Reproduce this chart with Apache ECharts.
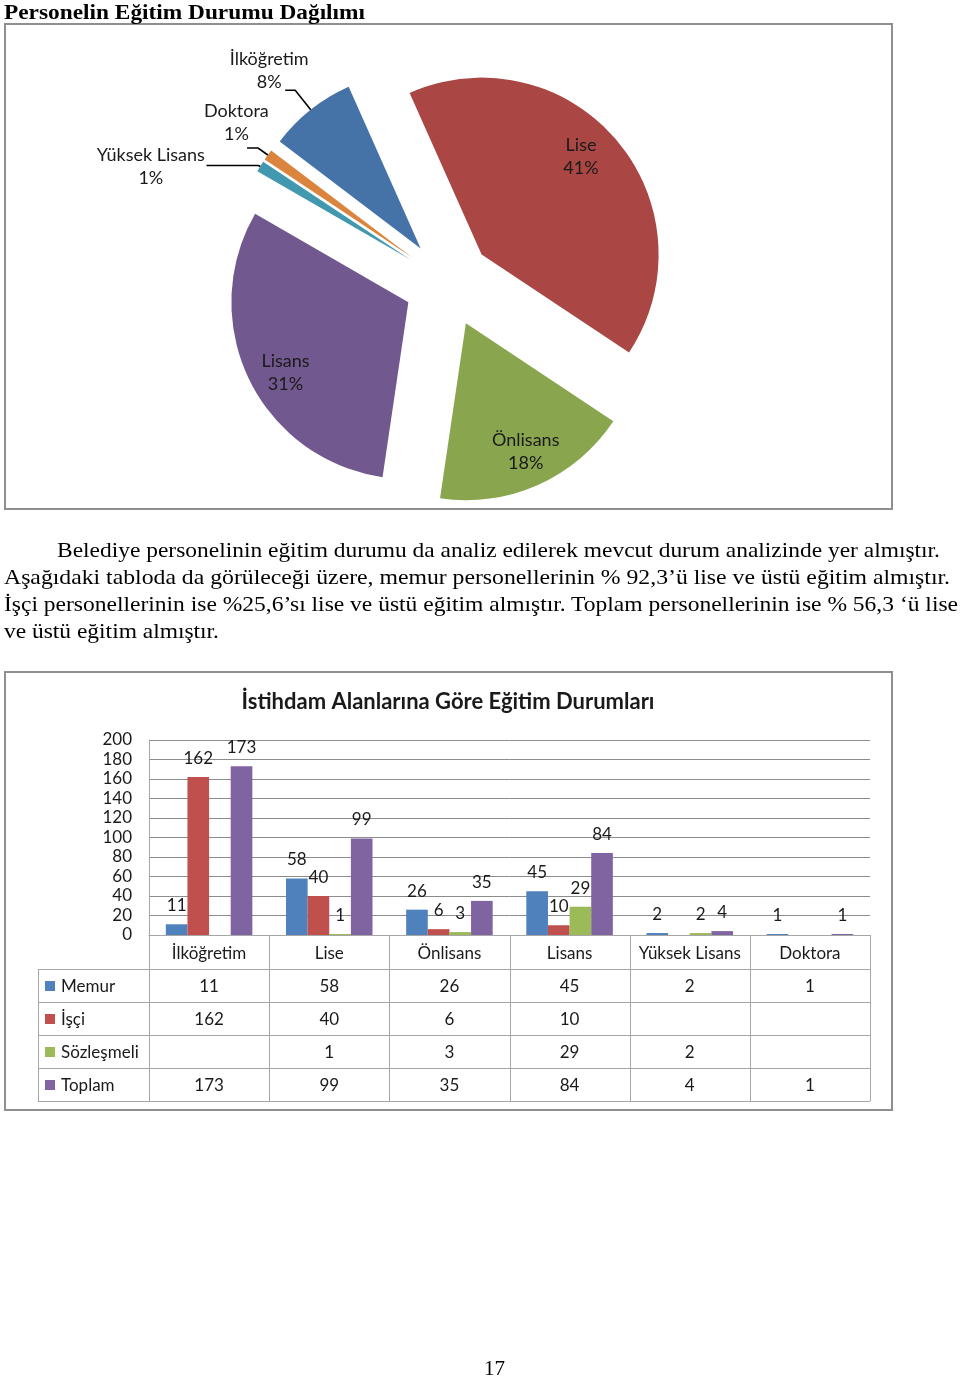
<!DOCTYPE html>
<html>
<head>
<meta charset="utf-8">
<script src="https://cdn.jsdelivr.net/npm/echarts@6/dist/echarts.min.js"></script>
<style>
html,body{margin:0;padding:0;background:#fff;}
#page{position:relative;width:960px;height:1376px;overflow:hidden;background:#fff;}
#chart{position:absolute;left:0;top:0;width:960px;height:1376px;}
.t{position:absolute;white-space:nowrap;font-family:"Liberation Serif","Times New Roman",serif;color:#000;transform-origin:0 0;line-height:1;}
</style>
</head>
<body>
<div id="page">
  <div id="chart"></div>
</div>
<script>
// ---------- DATA ----------
const pieCategories = ['Lise', 'Önlisans', 'Lisans', 'Yüksek Lisans', 'Doktora', 'İlköğretim'];
const piePercents = [41, 18, 31, 1, 1, 8];

const barCategories = ['İlköğretim', 'Lise', 'Önlisans', 'Lisans', 'Yüksek Lisans', 'Doktora'];
const seriesNames = ['Memur', 'İşçi', 'Sözleşmeli', 'Toplam'];
const memur = [11, 58, 26, 45, 2, 1];
const isci = [162, 40, 6, 10, null, null];
const sozlesmeli = [null, 1, 3, 29, 2, null];
const toplam = [173, 99, 35, 84, 4, 1];
const yMin = 0, yMax = 200, yInterval = 20;

const pageTitle = 'Personelin Eğitim Durumu Dağılımı';
const chartTitle = 'İstihdam Alanlarına Göre Eğitim Durumları';
const paragraphLines = [
  'Belediye personelinin eğitim durumu da analiz edilerek mevcut durum analizinde yer almıştır.',
  'Aşağıdaki  tabloda da görüleceği üzere, memur personellerinin % 92,3’ü  lise ve üstü eğitim almıştır.',
  'İşçi personellerinin ise %25,6’sı lise ve üstü eğitim almıştır. Toplam personellerinin ise % 56,3 ‘ü lise',
  've üstü eğitim almıştır.'
];
const pageNumber = '17';

// ---------- STYLE / LAYOUT ----------
const pieColors = ['#AA4643', '#89A54E', '#71588F', '#4198AF', '#DB843D', '#4572A7'];
const barColors = ['#4F81BD', '#C0504D', '#9BBB59', '#8064A2'];
const CHART_FONT = 'Lato, "Open Sans", sans-serif';
const TXT = '#1a1a1a';

// html text placement: [text, left, top, targetWidth, fontSize, bold]
const htmlText = [
  [pageTitle, 4, 1, 361, 22, true],
  [paragraphLines[0], 57, 540, 883, 21, false],
  [paragraphLines[1], 4, 567, 946, 21, false],
  [paragraphLines[2], 4, 594, 954, 21, false],
  [paragraphLines[3], 4, 621, 215, 21, false],
  [pageNumber, 484, 1358, 21, 21, false]
];
const page = document.getElementById('page');
htmlText.forEach(function (d) {
  const el = document.createElement('div');
  el.className = 't';
  el.textContent = d[0];
  el.style.left = d[1] + 'px';
  el.style.top = d[2] + 'px';
  el.style.fontSize = d[4] + 'px';
  if (d[5]) el.style.fontWeight = 'bold';
  page.appendChild(el);
  const w = el.getBoundingClientRect().width;
  if (w > 0) el.style.transform = 'scaleX(' + (d[3] / w) + ')';
});

// pie geometry
const PIE_C = [448, 283], PIE_R = 177, PIE_OFF = 44, PIE_START = 114;
const labelRadiusFactor = [0.79, 0.80, 0.80, 1.56, 1.25, 1.32];
const labelAngleShift = [4.5, 1, 4, 12, -2, 2];
const lineLen1 = [0, 0, 0, 2, 12, 25];
const lineLen2 = [0, 0, 0, 52, 11, 10];
const pieTotal = piePercents.reduce(function (a, b) { return a + b; }, 0);

function pieGeom(i) {
  let cum = 0;
  for (let j = 0; j < i; j++) cum += piePercents[j];
  const a0 = PIE_START - 360 * cum / pieTotal;
  const mid = a0 - 180 * piePercents[i] / pieTotal;
  const rad = mid * Math.PI / 180;
  const dx = Math.cos(rad), dy = -Math.sin(rad);
  return { mid: mid, dx: dx, dy: dy, ax: PIE_C[0] + PIE_OFF * dx, ay: PIE_C[1] + PIE_OFF * dy };
}

const pieData = pieCategories.map(function (n, i) {
  return { name: n, value: piePercents[i], selected: true, itemStyle: { color: pieColors[i] } };
});

// bar chart grid
const GRID_L = 149, GRID_R = 870, GRID_T = 740, GRID_B = 935;
const colW = (GRID_R - GRID_L) / barCategories.length;
const tableRowTops = [969, 1002, 1035, 1068];
const tableBottom = 1101;
const tableLeft = 38;
const LINE = '#a6a6a6';
const allSeries = [memur, isci, sozlesmeli, toplam];

const graphics = [];
// frames
graphics.push({ type: 'rect', shape: { x: 5, y: 24, width: 887, height: 485 }, style: { fill: null, stroke: '#8f8f8f', lineWidth: 2 } });
graphics.push({ type: 'rect', shape: { x: 5, y: 672, width: 887, height: 438 }, style: { fill: null, stroke: '#8f8f8f', lineWidth: 2 } });

// pie labels and leader lines (positions derived from slice angles)
pieCategories.forEach(function (n, i) {
  const g = pieGeom(i);
  const la = (g.mid + labelAngleShift[i]) * Math.PI / 180;
  const lr = labelRadiusFactor[i] * PIE_R;
  graphics.push({
    type: 'text', z: 20, x: g.ax + lr * Math.cos(la), y: g.ay - lr * Math.sin(la),
    style: {
      text: n + '\n' + Math.round(piePercents[i] / pieTotal * 100) + '%',
      font: '18px ' + CHART_FONT, lineHeight: 23, fill: TXT, textAlign: 'center', textVerticalAlign: 'middle'
    }
  });
  if (lineLen1[i] + lineLen2[i] > 0) {
    const p0 = [g.ax + PIE_R * g.dx, g.ay + PIE_R * g.dy];
    const p1 = [p0[0] + lineLen1[i] * g.dx, p0[1] + lineLen1[i] * g.dy];
    const p2 = [p1[0] - lineLen2[i], p1[1]];
    graphics.push({ type: 'polyline', z: 20, shape: { points: [p0, p1, p2] }, style: { stroke: '#000', lineWidth: 1.6, fill: null } });
  }
});

// chart title
graphics.push({ type: 'text', x: 448, y: 702, style: { text: chartTitle, font: 'bold 22px ' + CHART_FONT, fill: TXT, textAlign: 'center', textVerticalAlign: 'middle' } });
// table lines
tableRowTops.concat([tableBottom]).forEach(function (y) {
  graphics.push({ type: 'line', shape: { x1: tableLeft, y1: y + 0.5, x2: GRID_R, y2: y + 0.5 }, style: { stroke: LINE, lineWidth: 1 } });
});
graphics.push({ type: 'line', shape: { x1: tableLeft + 0.5, y1: tableRowTops[0], x2: tableLeft + 0.5, y2: tableBottom }, style: { stroke: LINE, lineWidth: 1 } });
for (let c = 0; c <= barCategories.length; c++) {
  const x = Math.round(GRID_L + c * colW) + 0.5;
  graphics.push({ type: 'line', shape: { x1: x, y1: GRID_B, x2: x, y2: tableBottom }, style: { stroke: LINE, lineWidth: 1 } });
}
// table rows
seriesNames.forEach(function (name, r) {
  const next = r < tableRowTops.length - 1 ? tableRowTops[r + 1] : tableBottom;
  const cy = (tableRowTops[r] + next) / 2 + 1.5;
  graphics.push({ type: 'rect', shape: { x: 45, y: Math.round(cy - 6), width: 10, height: 10 }, style: { fill: barColors[r] } });
  graphics.push({ type: 'text', x: 61, y: cy, style: { text: name, font: '17px ' + CHART_FONT, fill: TXT, textAlign: 'left', textVerticalAlign: 'middle' } });
  allSeries[r].forEach(function (v, c) {
    if (v == null) return;
    graphics.push({ type: 'text', x: GRID_L + (c + 0.5) * colW, y: cy, style: { text: String(v), font: '17px ' + CHART_FONT, fill: TXT, textAlign: 'center', textVerticalAlign: 'middle' } });
  });
});

const chart = echarts.init(document.getElementById('chart'), null, { renderer: 'canvas' });
chart.setOption({
  animation: false,
  backgroundColor: 'transparent',
  textStyle: { fontFamily: CHART_FONT },
  grid: { left: GRID_L, top: GRID_T, width: GRID_R - GRID_L, height: GRID_B - GRID_T, containLabel: false },
  xAxis: {
    type: 'category', data: barCategories,
    axisLine: { show: true, lineStyle: { color: LINE } },
    axisTick: { show: false },
    axisLabel: { interval: 0, fontSize: 17, color: TXT, margin: 10, fontFamily: CHART_FONT }
  },
  yAxis: {
    type: 'value', min: yMin, max: yMax, interval: yInterval,
    axisLine: { show: true, lineStyle: { color: LINE } },
    axisTick: { show: false },
    splitLine: { lineStyle: { color: '#8c8c8c' } },
    axisLabel: { fontSize: 17, color: TXT, margin: 17, fontFamily: CHART_FONT }
  },
  series: [
    {
      type: 'pie', center: PIE_C, radius: PIE_R, startAngle: PIE_START, clockwise: true,
      selectedMode: 'multiple', selectedOffset: PIE_OFF, avoidLabelOverlap: false,
      minAngle: 0, data: pieData, z: 2,
      label: { show: false }, labelLine: { show: false },
      emphasis: { disabled: true }
    }
  ].concat(seriesNames.map(function (n, k) {
    return {
      type: 'bar', name: n, data: allSeries[k],
      barGap: '0%', barCategoryGap: '28%',
      itemStyle: { color: barColors[k] },
      label: { show: true, position: 'top', distance: 10, fontSize: 17, color: TXT, fontFamily: CHART_FONT },
      emphasis: { disabled: true }
    };
  })),
  graphic: { elements: graphics }
});
</script>
</body>
</html>
